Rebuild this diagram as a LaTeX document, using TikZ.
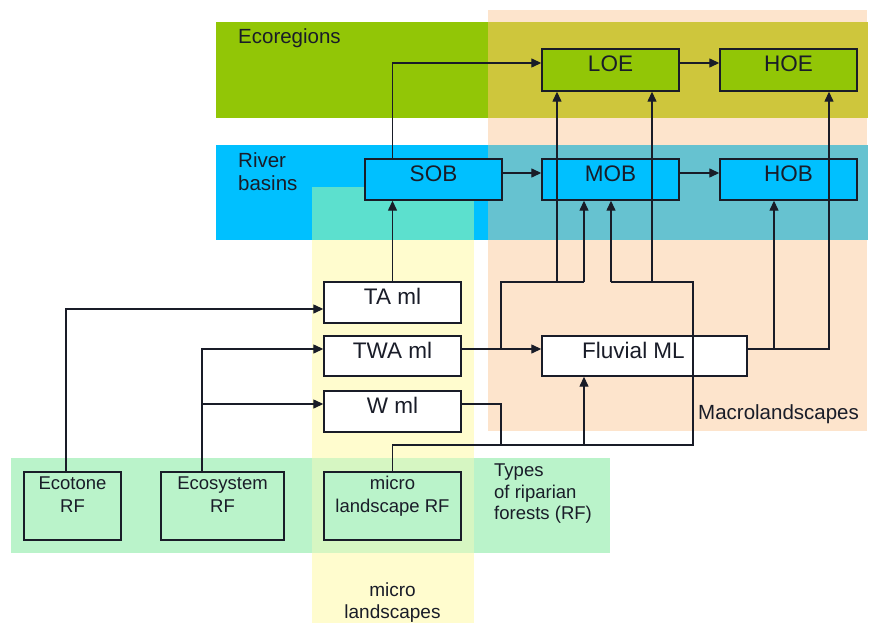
\documentclass[tikz,border=0pt]{standalone}
\usepackage{fontspec}
\setmainfont{Liberation Sans}
\usetikzlibrary{arrows.meta,calc}
\definecolor{peach}{RGB}{253,228,204}
\definecolor{ecogreen}{RGB}{146,198,6}
\definecolor{olivemix}{RGB}{206,198,60}
\definecolor{rivblue}{RGB}{0,192,255}
\definecolor{bluepeach}{RGB}{102,194,208}
\definecolor{microyel}{RGB}{255,252,206}
\definecolor{turq}{RGB}{92,224,206}
\definecolor{rfgreen}{RGB}{186,243,202}
\definecolor{rfyel}{RGB}{214,246,194}
\definecolor{ink}{RGB}{25,28,40}
\begin{document}
\begin{tikzpicture}[x=1pt,y=-1pt,
  upbox/.style={draw=ink, line width=1.4pt, minimum width=137pt, inner sep=0pt, text=ink,
    font=\fontsize{22.5}{26}\selectfont, text height=16pt, text depth=12pt},
  lowbox/.style={draw=ink, line width=1.4pt, minimum height=68pt, inner sep=0pt},
  lowtxt/.style={anchor=north, inner sep=0pt, align=center, text=ink,
    font=\fontsize{18.5}{23}\selectfont},
  areatxt/.style={inner sep=0pt, text=ink, align=left, font=\fontsize{20.5}{23}\selectfont},
  wire/.style={draw=ink, line width=1.3pt},
  conn/.style={wire, -{Triangle[length=10pt,width=9pt]}}]
\useasboundingbox (0,0) rectangle (870,623);
\fill[white] (0,0) rectangle (870,623);
% background regions
\fill[peach] (488,10) rectangle (867,431);
\fill[ecogreen] (216,22) rectangle (868,118);
\fill[olivemix] (488,22) rectangle (868,118);
\fill[rivblue] (216,145) rectangle (868,240);
\fill[bluepeach] (488,145) rectangle (868,240);
\fill[microyel] (312,187) rectangle (474,623);
\fill[turq] (312,187) rectangle (474,240);
\fill[rfgreen] (11,458) rectangle (610,553);
\fill[rfyel] (312,458) rectangle (474,553);
% area labels
\node[areatxt, anchor=north west] (tEco) at (238,28) {Ecoregions};
\node[areatxt, anchor=north west] (tRiv) at (238,152) {River\\basins};
\node[areatxt, anchor=north west] (tMac) at (698,404) {Macrolandscapes};
\node[lowtxt, anchor=north west, align=left, font=\fontsize{18.5}{21.5}\selectfont] (tTyp) at (494,464) {Types\\of riparian\\forests (RF)};
\node[lowtxt, font=\fontsize{19}{22}\selectfont] (tMic) at (392.5,583) {micro\\landscapes};
% boxes
\node[upbox, fill=ecogreen, minimum height=42pt] (loe) at (610.5,70) {LOE};
\node[upbox, fill=ecogreen, minimum height=42pt] (hoe) at (788.5,70) {HOE};
\node[upbox, fill=rivblue, minimum height=41pt] (sob) at (433.5,179.5) {SOB};
\node[upbox, fill=rivblue, minimum height=41pt] (mob) at (610.5,179.5) {MOB};
\node[upbox, fill=rivblue, minimum height=41pt] (hob) at (788.5,179.5) {HOB};
\node[upbox, fill=white, minimum height=41pt] (tam) at (392.5,302.5) {TA ml};
\node[upbox, fill=white, minimum height=40pt] (twa) at (392.5,356) {TWA ml};
\node[upbox, fill=white, minimum height=41pt] (wml) at (392.5,411.5) {W ml};
\node[upbox, fill=white, minimum height=40pt, minimum width=205pt] (flu) at (644.5,356) {\hspace*{-22pt}Fluvial ML};
\node[lowbox, minimum width=97pt] (ecot) at (72.5,506) {};
\node[lowbox, minimum width=123pt] (ecos) at (222.5,506) {};
\node[lowbox, minimum width=137pt, fill=rfgreen] (mrf) at (392.5,506) {};
\node[lowtxt] (ecotT) at ([yshift=-5pt]ecot.north) {Ecotone\\RF};
\node[lowtxt] (ecosT) at ([yshift=-5pt]ecos.north) {Ecosystem\\RF};
\node[lowtxt] (mrfT) at ([yshift=-5pt]mrf.north) {micro\\landscape RF};
% helper coordinates
\coordinate (yE) at (0,63);
\coordinate (yB) at (0,173);
\coordinate (yT) at (0,282);
\coordinate (yTA) at (0,309);
\coordinate (yM) at (0,349);
\coordinate (yW) at (0,404);
\coordinate (yL) at (0,445);
\coordinate (xA) at (501,0);
\coordinate (xB) at (557,0);
\coordinate (xC) at (584,0);
\coordinate (xD) at (611,0);
\coordinate (xE) at (652,0);
\coordinate (xF) at (693,0);
\coordinate (xH) at (774,0);
\coordinate (xI) at (829,0);
\coordinate (xEt) at (66,0);
\coordinate (xEs) at (202,0);
% connectors top
\draw[conn] (tam.north) -- (tam.north |- sob.south);
\draw[conn] (tam.north |- sob.north) |- (loe.west |- yE);
\draw[conn] (loe.east |- yE) -- (hoe.west |- yE);
\draw[conn] (sob.east |- yB) -- (mob.west |- yB);
\draw[conn] (mob.east |- yB) -- (hob.west |- yB);
% TWA ml
\draw[conn] (twa.east |- yM) -- (flu.west |- yM);
\draw[wire] (xA |- yM) |- (xC |- yT);
\draw[conn] (xB |- yT) -- (xB |- loe.south);
\draw[conn] (xC |- yT) -- (xC |- mob.south);
% micro landscape RF
\draw[wire] (mrf.north) |- (xF |- yL) |- (xD |- yT);
\draw[conn] (xD |- yT) -- (xD |- mob.south);
\draw[conn] (xE |- yT) -- (xE |- loe.south);
\draw[wire] (wml.east |- yW) -| (xA |- yL);
\draw[conn] (xC |- yL) -- (xC |- flu.south);
% Fluvial ML
\draw[conn] (flu.east |- yM) -| (xI |- hoe.south);
\draw[conn] (xH |- yM) -- (xH |- hob.south);
% left side
\draw[conn] (xEt |- ecot.north) |- (tam.west |- yTA);
\draw[conn] (xEs |- ecos.north) |- (twa.west |- yM);
\draw[conn] (xEs |- yW) -- (wml.west |- yW);
\end{tikzpicture}
\end{document}
